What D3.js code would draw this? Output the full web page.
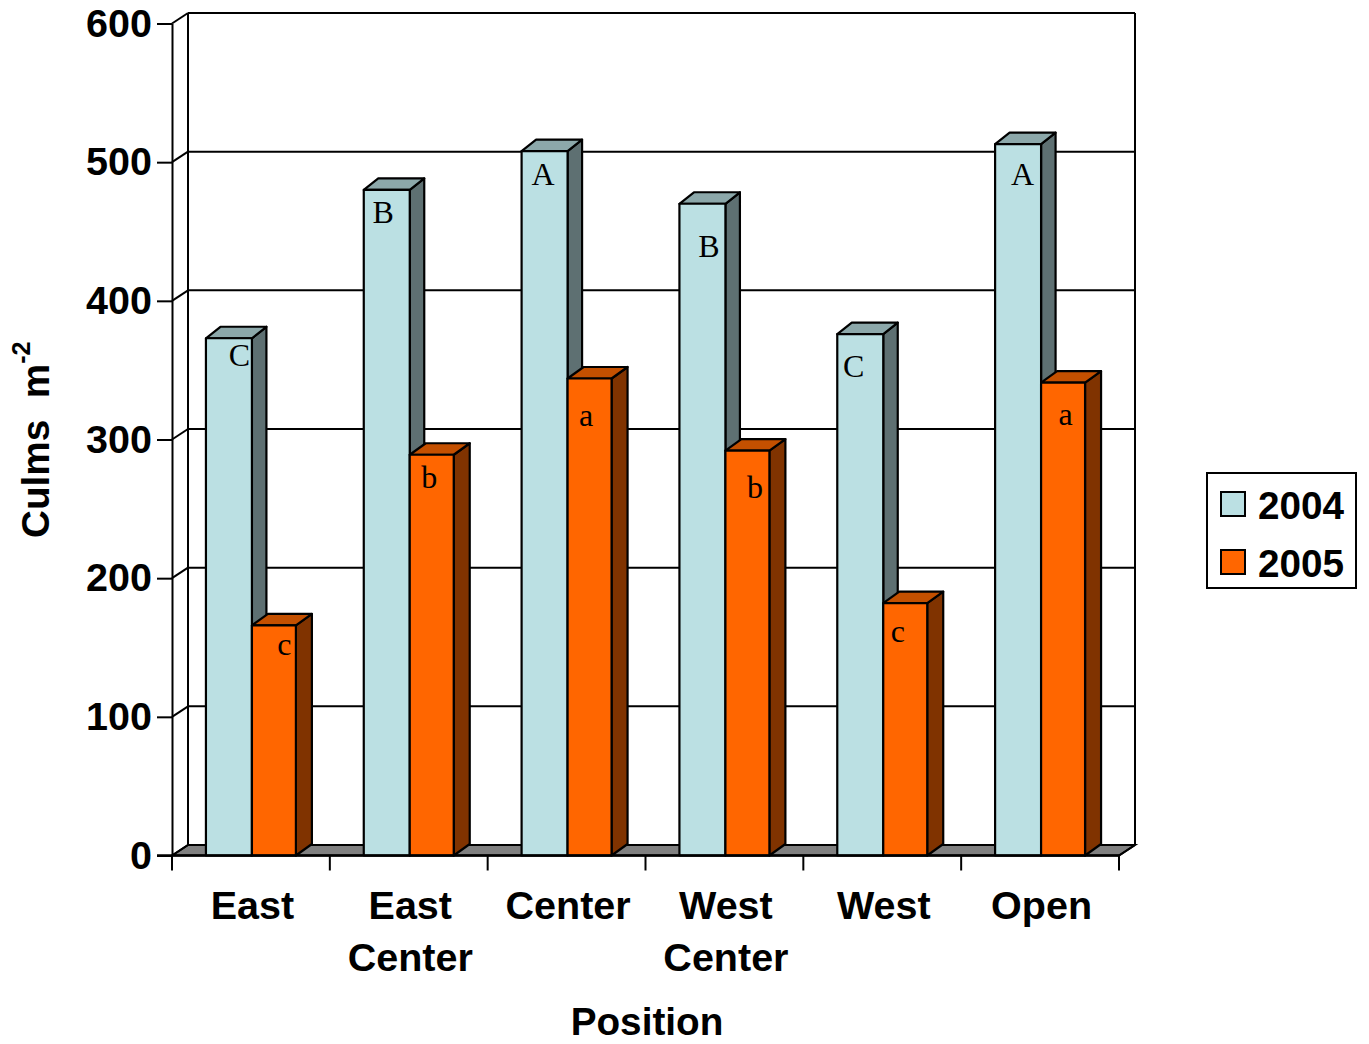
<!DOCTYPE html>
<html>
<head>
<meta charset="utf-8">
<title>Culms by position</title>
<script src="https://d3js.org/d3.v7.min.js"></script>
<style>
  html, body { margin: 0; padding: 0; background: #fff; }
  svg { display: block; }
  text { font-family: "Liberation Sans", Arial, sans-serif; font-weight: bold; fill: #000; }
  .letter { font-family: "Liberation Serif", "Times New Roman", serif; font-weight: normal; font-size: 32px; text-anchor: middle; }
</style>
</head>
<body>
<div id="chart"></div>
<script>
// data
const categories = ["East", "East\nCenter", "Center", "West\nCenter", "West", "Open"]
const seriesNames = ["2004", "2005"]
const values2004 = [373, 480, 508, 470, 376, 513]
const values2005 = [166, 289, 344, 292, 182, 341]
const letters2004 = ["C", "B", "A", "B", "C", "A"]
const letters2005 = ["c", "b", "a", "b", "c", "a"]
const yTicks = [0, 100, 200, 300, 400, 500, 600]

// the letters were placed by hand in the original, so they need their own nudges
const letterDx2004 = [11, -3, -1, 7, -6, 5]
const letterDx2005 = [11, -2, -3, 8, -7, 3]
const letterDy2004 = [28, 33, 34, 53, 43, 41]
const letterDy2005 = [30, 33, 48, 47, 39, 42]

const fontSize = 39.5
const titleFontSize = 38.7
const plotLeft = 172, plotRight = 1119, plotTop = 23.5, plotBottom = 855.5
// wall depth
const depthX = 16, wallDepthY = -10.5, barDepthY = -11.5

const colors = [
  { front: "#bbe0e3", side: "#5e7072", lid: "#8ca8aa", depth: 14.5, inset: 0, extra: 1 },
  { front: "#ff6600", side: "#803300", lid: "#c45000", depth: 16, inset: 1, extra: -1 },
]

const svg = d3.select("#chart").append("svg").attr("width", 1369).attr("height", 1044)

const y = d3.scaleLinear().domain([0, 600]).range([plotBottom, plotTop])
const x = d3.scaleBand().domain(categories).range([plotLeft, plotRight]).paddingInner(0.43).paddingOuter(0.215)
const xSeries = d3.scaleBand().domain(seriesNames).range([0, x.bandwidth()])

// floor
svg.append("polygon")
  .attr("points", [[plotLeft, plotBottom], [plotLeft + depthX, plotBottom + wallDepthY], [plotRight + depthX, plotBottom + wallDepthY], [plotRight, plotBottom]].join(" "))
  .attr("fill", "#808080")
  .attr("stroke", "#000")
  .attr("stroke-width", 2)

// grid lines on the back wall and the slanted bits on the side wall
const grid = svg.append("g").attr("stroke", "#000").attr("stroke-width", 2).attr("fill", "none")
grid.selectAll(".grid")
  .data(yTicks)
  .enter()
  .append("line")
  .attr("x1", plotLeft + depthX)
  .attr("x2", plotRight + depthX)
  .attr("y1", (d) => y(d) + wallDepthY)
  .attr("y2", (d) => y(d) + wallDepthY)
grid.selectAll(".slant")
  .data(yTicks)
  .enter()
  .append("line")
  .attr("x1", plotLeft)
  .attr("x2", plotLeft + depthX)
  .attr("y1", (d) => y(d))
  .attr("y2", (d) => y(d) + wallDepthY)
grid.append("line")
  .attr("x1", plotLeft + depthX).attr("x2", plotLeft + depthX)
  .attr("y1", y(600) + wallDepthY).attr("y2", y(0) + wallDepthY)
grid.append("line")
  .attr("x1", plotRight + depthX).attr("x2", plotRight + depthX)
  .attr("y1", y(600) + wallDepthY).attr("y2", y(0) + wallDepthY)
grid.append("line")
  .attr("x1", plotRight).attr("x2", plotRight + depthX)
  .attr("y1", y(0)).attr("y2", y(0) + wallDepthY)

// y axis
const yAxis = svg.append("g")
  .attr("transform", `translate(${plotLeft},0)`)
  .call(d3.axisLeft(y).tickValues(yTicks).tickSize(15).tickSizeOuter(0).tickPadding(5))
yAxis.select(".domain").attr("stroke", "#000").attr("stroke-width", 2)
yAxis.selectAll(".tick line").attr("stroke", "#000").attr("stroke-width", 2)
yAxis.selectAll(".tick text")
  .style("font-size", `${fontSize}px`)
  .attr("dy", "0.32em")

// bars, 2004 first so that 2005 sits in front of its side
const seriesData = [
  { name: "2004", values: values2004, letters: letters2004, dx: letterDx2004, dy: letterDy2004 },
  { name: "2005", values: values2005, letters: letters2005, dx: letterDx2005, dy: letterDy2005 },
]

const groups = svg.selectAll(".cat")
  .data(categories)
  .enter()
  .append("g")
  .attr("class", "cat")
  .attr("stroke", "#000")
  .attr("stroke-width", 2.2)
  .attr("stroke-linejoin", "round")

seriesData.forEach((s, si) => {
  const c = colors[si]
  const w = xSeries.bandwidth() + c.extra
  const pos = (i) => x(categories[i]) + xSeries(s.name) + c.inset

  groups.append("polygon")
    .attr("fill", c.side)
    .attr("points", (d, i) => {
      const x1 = pos(i) + w, t = y(s.values[i])
      return [[x1, t], [x1 + c.depth, t + barDepthY], [x1 + c.depth, y(0) + barDepthY], [x1, y(0)]].join(" ")
    })
  groups.append("polygon")
    .attr("fill", c.lid)
    .attr("points", (d, i) => {
      const x0 = pos(i), t = y(s.values[i])
      return [[x0, t], [x0 + c.depth, t + barDepthY], [x0 + w + c.depth, t + barDepthY], [x0 + w, t]].join(" ")
    })
  groups.append("rect")
    .attr("fill", c.front)
    .attr("x", (d, i) => pos(i))
    .attr("y", (d, i) => y(s.values[i]))
    .attr("width", w)
    .attr("height", (d, i) => y(0) - y(s.values[i]))
})

// letters go over everything
seriesData.forEach((s) => {
  svg.selectAll(`.letter-${s.name}`)
    .data(s.letters)
    .enter()
    .append("text")
    .attr("class", `letter letter-${s.name}`)
    .attr("x", (d, i) => x(categories[i]) + xSeries(s.name) + xSeries.bandwidth() / 2 + s.dx[i])
    .attr("y", (d, i) => y(s.values[i]) + s.dy[i])
    .text((d) => d)
})

// x axis, ticks sit on the category boundaries
const xAxis = svg.append("g").attr("transform", `translate(0,${plotBottom})`)
xAxis.append("line").attr("x1", plotLeft - 15).attr("x2", plotRight).attr("stroke", "#000").attr("stroke-width", 2.5)
xAxis.selectAll(".xtick")
  .data(d3.range(categories.length + 1))
  .enter()
  .append("line")
  .attr("x1", (d) => plotLeft + d * x.step())
  .attr("x2", (d) => plotLeft + d * x.step())
  .attr("y1", 0)
  .attr("y2", 15)
  .attr("stroke", "#000")
  .attr("stroke-width", 2)

const xLabels = svg.selectAll(".xlabel")
  .data(categories)
  .enter()
  .append("text")
  .attr("class", "xlabel")
  .attr("text-anchor", "middle")
  .style("font-size", `${fontSize}px`)
  .attr("transform", (d) => `translate(${x(d) + x.bandwidth() / 2 + 1.5},919)`)
xLabels.selectAll("tspan")
  .data((d) => d.split("\n"))
  .enter()
  .append("tspan")
  .attr("x", 0)
  .attr("y", (d, i) => i * 52)
  .text((d) => d)

// axis titles
svg.append("text")
  .attr("x", 647)
  .attr("y", 1035)
  .attr("text-anchor", "middle")
  .style("font-size", `${titleFontSize}px`)
  .text("Position")

const yTitle = svg.append("text")
  .attr("transform", "translate(49,538) rotate(-90)")
  .style("white-space", "pre")
  .style("font-size", `${titleFontSize}px`)
yTitle.append("tspan").text("Culms  m")
yTitle.append("tspan").attr("dy", -19).style("font-size", "25px").text("-2")

// legend
const legend = svg.append("g").attr("transform", "translate(1207,473)")
legend.append("rect")
  .attr("width", 149)
  .attr("height", 115)
  .attr("fill", "#fff")
  .attr("stroke", "#000")
  .attr("stroke-width", 2)
const legendY = d3.scalePoint().domain(seriesNames).range([32, 90])
const legendRows = legend.selectAll(".row")
  .data(seriesNames)
  .enter()
  .append("g")
  .attr("class", "row")
  .attr("transform", (d) => `translate(0,${legendY(d)})`)
legendRows.append("rect")
  .attr("x", 14)
  .attr("y", -13)
  .attr("width", 24)
  .attr("height", 24)
  .attr("fill", (d, i) => colors[i].front)
  .attr("stroke", "#000")
  .attr("stroke-width", 2)
legendRows.append("text")
  .attr("x", 51)
  .attr("y", 14)
  .style("font-size", `${titleFontSize}px`)
  .text((d) => d)
</script>
</body>
</html>
